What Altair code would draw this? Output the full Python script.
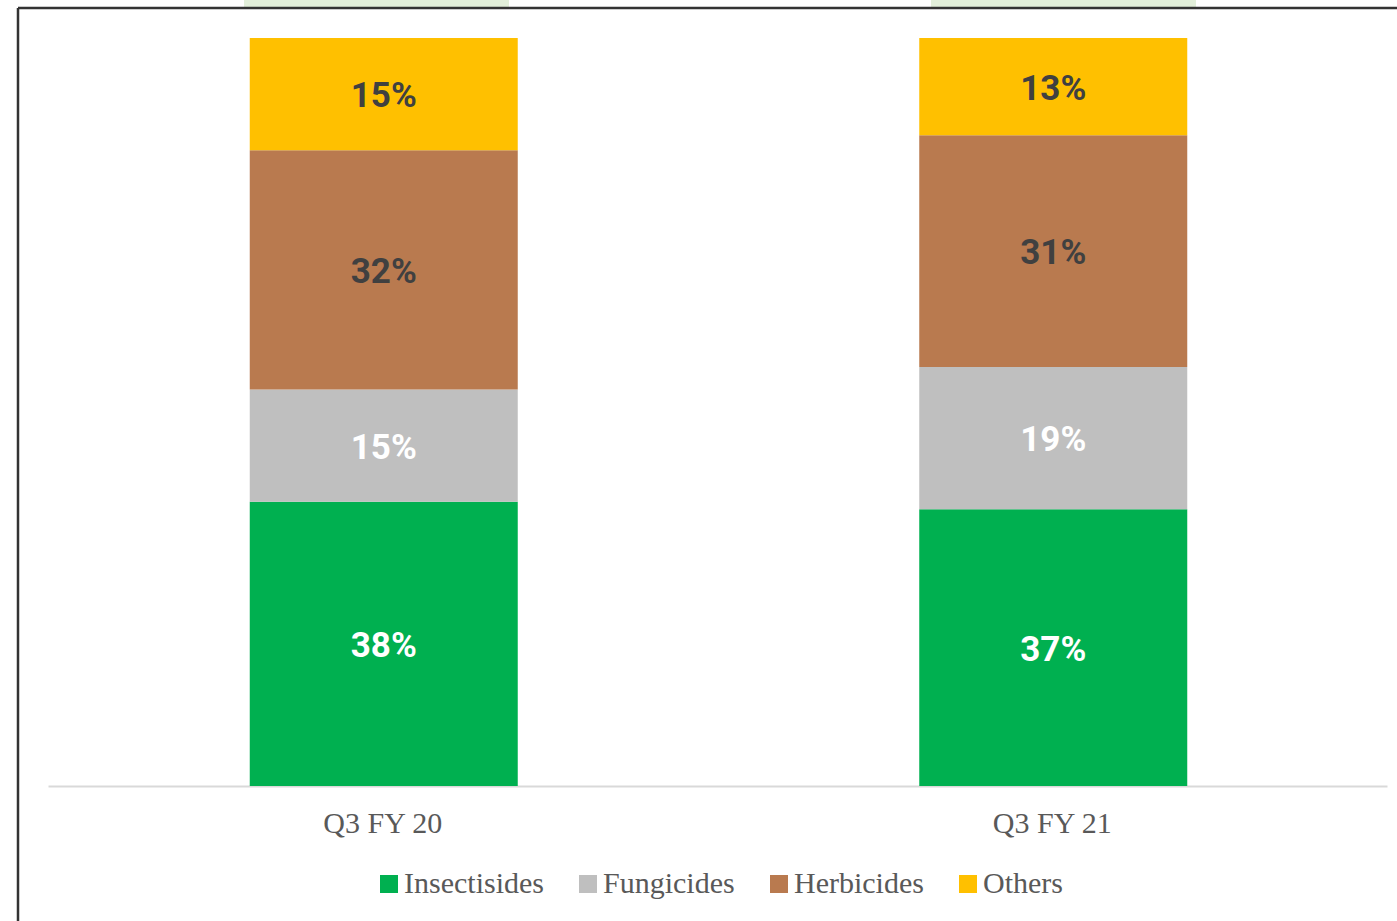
import altair as alt
import pandas as pd

periods = ["Q3 FY 20", "Q3 FY 21"]
segments = ["Insectisides", "Fungicides", "Herbicides", "Others"]
share_fy20 = [38, 15, 32, 15]
share_fy21 = [37, 19, 31, 13]
colors = ["#00b050", "#bfbfbf", "#b97a4f", "#ffc000"]

rows = []
for p, vals in zip(periods, [share_fy20, share_fy21]):
    for i, (s, v) in enumerate(zip(segments, vals)):
        rows.append({"period": p, "segment": s, "share": v, "idx": i, "lab": f"{v}%"})
df = pd.DataFrame(rows)

base = alt.Chart(df).transform_stack(
    stack="share", groupby=["period"], as_=["y0", "y1"],
    sort=[alt.SortField("idx", order="ascending")]
).transform_calculate(mid="(datum.y0 + datum.y1) / 2")

x = alt.X("period:N", sort=periods,
          scale=alt.Scale(paddingInner=0, paddingOuter=0),
          axis=alt.Axis(title=None, labelAngle=0, ticks=False, grid=False,
                        domainColor="#d9d9d9", domainWidth=2,
                        labelFont="Liberation Serif", labelFontSize=30,
                        labelColor="#595959", labelPadding=22))

bars = base.mark_bar(size=268, xOffset=1).encode(
    x=x,
    y=alt.Y("y1:Q", scale=alt.Scale(domain=[0, 100]), axis=None),
    y2="y0:Q",
    color=alt.Color("segment:N", sort=segments,
                    scale=alt.Scale(domain=segments, range=colors),
                    legend=alt.Legend(title=None, orient="none", direction="horizontal",
                                      legendX=326, legendY=831, padding=0,
                                      symbolType="square", symbolSize=324,
                                      symbolStrokeWidth=0, labelFont="Liberation Serif",
                                      labelFontSize=30, labelColor="#595959",
                                      labelOffset=0, columnPadding=29)),
)

labels = base.mark_text(font="Roboto", fontWeight="bold", fontSize=35, dy=2, dx=1).encode(
    x=alt.X("period:N", sort=periods),
    y=alt.Y("mid:Q", scale=alt.Scale(domain=[0, 100])),
    text="lab:N",
    color=alt.condition("datum.idx >= 2", alt.value("#404040"), alt.value("#ffffff")),
)

deco = pd.DataFrame({"k": [0]})
frame_v = alt.Chart(deco).mark_rule(color="#333333", strokeWidth=2.5).encode(
    x=alt.value(-30), y=alt.value(-30), y2=alt.value(900))
frame_h = alt.Chart(deco).mark_rule(color="#333333", strokeWidth=2.5).encode(
    x=alt.value(-30), x2=alt.value(1360), y=alt.value(-30))
tab1 = alt.Chart(deco).mark_rect(color="#e2efda").encode(
    x=alt.value(196), x2=alt.value(461), y=alt.value(-40), y2=alt.value(-31))
tab2 = alt.Chart(deco).mark_rect(color="#e2efda").encode(
    x=alt.value(883), x2=alt.value(1148), y=alt.value(-40), y2=alt.value(-31))

chart = alt.layer(tab1, tab2, frame_v, frame_h, bars, labels).properties(
    width=1339, height=748,
    padding={"left": 48, "top": 38, "right": 10, "bottom": 135},
    autosize=alt.AutoSizeParams(type="none"),
    background="white",
).configure_view(strokeWidth=0, stroke=None)

chart.save("out.html", embed_options={"renderer": "svg", "actions": False})
